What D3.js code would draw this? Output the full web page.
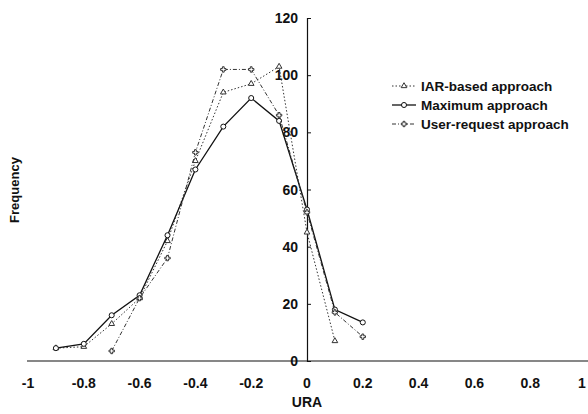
<!DOCTYPE html>
<html>
<head>
<meta charset="utf-8">
<script src="https://cdn.jsdelivr.net/npm/d3@7"></script>
<style>
  body { margin: 0; background: #fff; }
  svg { display: block; }
  text { font-family: "Liberation Sans Narrow", "Arial Narrow", "Liberation Sans", sans-serif; font-weight: bold; fill: #111; }
</style>
</head>
<body>
<div id="chart"></div>
<script>
// URA values on the x axis
const uraIAR = [-0.9, -0.8, -0.7, -0.6, -0.5, -0.4, -0.3, -0.2, -0.1, 0, 0.1];
const freqIAR = [4.5, 5, 13, 22, 42, 70, 94, 97, 103, 45, 7];

const uraMax = [-0.9, -0.8, -0.7, -0.6, -0.5, -0.4, -0.3, -0.2, -0.1, 0, 0.1, 0.2];
const freqMax = [4.5, 6, 16, 23, 44, 67, 82, 92, 84, 53, 18, 13.5];

const uraUser = [-0.7, -0.6, -0.5, -0.4, -0.3, -0.2, -0.1, 0, 0.1, 0.2];
const freqUser = [3.5, 22, 36, 73, 102, 102, 86, 52, 17, 8.5];

const xTicks = [-1, -0.8, -0.6, -0.4, -0.2, 0, 0.2, 0.4, 0.6, 0.8, 1];
const yTicks = [0, 20, 40, 60, 80, 100, 120];

const seriesNames = ["IAR-based approach", "Maximum approach", "User-request approach"];

const width = 588, height = 414;

const svg = d3.select("#chart").append("svg")
  .attr("width", width)
  .attr("height", height);

const x = d3.scaleLinear().domain([-1, 1]).range([28, 586]);
const y = d3.scaleLinear().domain([0, 120]).range([361, 18]);

// x axis line through y = 0, labels below
svg.append("line")
  .attr("x1", 27).attr("x2", 588)
  .attr("y1", y(0)).attr("y2", y(0))
  .attr("stroke", "#111").attr("stroke-width", 1.2);

svg.selectAll(".xlab")
  .data(xTicks)
  .enter().append("text")
  .attr("class", "xlab")
  .attr("x", d => Math.min(x(d), 582))
  .attr("y", 388)
  .attr("text-anchor", "middle")
  .style("font-size", "14px")
  .text(d => d);

// y axis at x = 0, ticks to the right, labels to the left
const yAxis = d3.axisRight(y)
  .tickValues(yTicks)
  .tickSize(4)
  .tickFormat("");

svg.append("g")
  .attr("transform", `translate(${x(0)},0)`)
  .call(yAxis)
  .call(g => g.select(".domain").attr("stroke", "#111").attr("stroke-width", 1.2))
  .call(g => g.selectAll(".tick line").attr("stroke", "#111"));

svg.selectAll(".ylab")
  .data(yTicks)
  .enter().append("text")
  .attr("class", "ylab")
  .attr("x", x(0) - 9)
  .attr("y", d => y(d) + 5)
  .attr("text-anchor", "end")
  .style("font-size", "14px")
  .text(d => d);

svg.append("text")
  .attr("x", x(0))
  .attr("y", 407)
  .attr("text-anchor", "middle")
  .style("font-size", "14px")
  .text("URA");

svg.append("text")
  .attr("transform", `translate(19,190) rotate(-90)`)
  .attr("text-anchor", "middle")
  .style("font-size", "13px")
  .text("Frequency");

// series
const series = [
  { name: seriesNames[0], xs: uraIAR, ys: freqIAR, dash: "1.5,2", color: "#333", width: 1, symbol: d3.symbolTriangle, size: 14 },
  { name: seriesNames[1], xs: uraMax, ys: freqMax, dash: null, color: "#111", width: 1.3, symbol: d3.symbolCircle, size: 20 },
  { name: seriesNames[2], xs: uraUser, ys: freqUser, dash: "4,2,1,2", color: "#333", width: 1, symbol: d3.symbolCross, size: 16 }
];

const line = d3.line()
  .x(d => x(d[0]))
  .y(d => y(d[1]));

series.forEach(s => {
  const pts = s.xs.map((v, i) => [v, s.ys[i]]);
  svg.append("path")
    .datum(pts)
    .attr("d", line)
    .attr("fill", "none")
    .attr("stroke", s.color)
    .attr("stroke-width", s.width)
    .attr("stroke-dasharray", s.dash);

  svg.selectAll(null)
    .data(pts)
    .enter().append("path")
    .attr("d", d3.symbol().type(s.symbol).size(s.size))
    .attr("transform", d => `translate(${x(d[0])},${y(d[1])})`)
    .attr("fill", "#fff")
    .attr("stroke", s.color)
    .attr("stroke-width", 1);
});

// legend
const legend = svg.append("g").attr("transform", "translate(392,86)");
series.forEach((s, i) => {
  const row = legend.append("g").attr("transform", `translate(0,${i * 19})`);
  row.append("line")
    .attr("x1", 0).attr("x2", 24)
    .attr("stroke", s.color)
    .attr("stroke-width", s.width)
    .attr("stroke-dasharray", s.dash);
  row.append("path")
    .attr("d", d3.symbol().type(s.symbol).size(s.size))
    .attr("transform", "translate(12,0)")
    .attr("fill", "#fff")
    .attr("stroke", s.color);
  row.append("text")
    .attr("x", 29)
    .attr("y", 5)
    .style("font-size", "13.5px")
    .text(s.name);
});
</script>
</body>
</html>
